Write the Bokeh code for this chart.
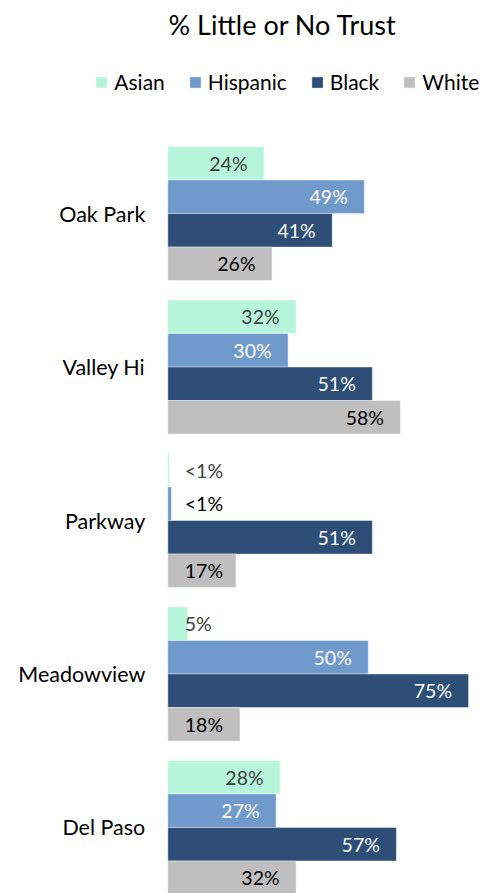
from bokeh.plotting import figure
from bokeh.models import Range1d, Legend, LegendItem, ColumnDataSource
from bokeh.embed import file_html
from bokeh.resources import INLINE
from bokeh.core.properties import value

# ---- data ----
regions = ["Oak Park", "Valley Hi", "Parkway", "Meadowview", "Del Paso"]
series_names = ["Asian", "Hispanic", "Black", "White"]
asian = [24, 32, 0.4, 5, 28]
hispanic = [49, 30, 0.9, 50, 27]
black = [41, 51, 51, 75, 57]
white = [26, 58, 17, 18, 32]
title_text = "% Little or No Trust"

# ---- style ----
colors = ["#B8F5DD", "#7099CC", "#2D4E77", "#BFBFBF"]
label_colors = ["#404040", "#FFFFFF", "#FFFFFF", "#000000"]
FONT = "Lato"

W, H = 487, 893
PX_PER_PCT = 4.01
BAR_LEFT_PX = 167.3
BAR = 1 / 4.577            # bar height in group units
FRAME_TOP = 45.8
GROUP_PX = 153.33
FIRST_CENTER = 213.7
y_top_val = -(FIRST_CENTER - FRAME_TOP) / GROUP_PX
y_bot_val = (H - FIRST_CENTER) / GROUP_PX

x_start = -BAR_LEFT_PX / PX_PER_PCT
x_end = (W - BAR_LEFT_PX) / PX_PER_PCT

p = figure(width=W, height=H, output_backend="svg", toolbar_location=None,
           x_range=Range1d(x_start, x_end), y_range=Range1d(y_bot_val, y_top_val),
           x_axis_location=None, y_axis_location=None,
           min_border_left=0, min_border_right=0,
           min_border_bottom=0, min_border_top=0, outline_line_color=None,
           background_fill_color=None, border_fill_color="white")
p.grid.visible = False

p.title.text = title_text
p.title.text_font = FONT
p.title.text_font_size = "27px"
p.title.text_font_style = "normal"
p.title.text_color = "#000000"
p.title.align = "left"
p.title.offset = 168

all_vals = [asian, hispanic, black, white]
items = []
for j, (name, vals) in enumerate(zip(series_names, all_vals)):
    ys = [i + (j - 1.5) * BAR for i in range(len(regions))]
    src = ColumnDataSource(dict(y=ys, right=vals))
    r = p.hbar(y="y", left=0, right="right", height=BAR, source=src,
               fill_color=colors[j], line_color="white", line_width=0.8, line_alpha=0.5)
    items.append(LegendItem(label=name, renderers=[r]))

    texts, xs, aligns, offs, tcols = [], [], [], [], []
    for v in vals:
        texts.append("<1%" if v < 1 else f"{v:.0f}%")
        if v < 19:
            xs.append(0); aligns.append("left"); offs.append(17)
            tcols.append("#000000" if label_colors[j] == "#FFFFFF" else label_colors[j])
        else:
            xs.append(v); aligns.append("right"); offs.append(-16.5)
            tcols.append(label_colors[j])
    tsrc = ColumnDataSource(dict(x=xs, y=ys, text=texts, align=aligns, off=offs, col=tcols))
    p.text(x="x", y="y", text="text", source=tsrc, text_align="align", x_offset="off",
           text_baseline="middle", text_color="col", text_font=value(FONT),
           text_font_size="19.5px")

# category labels
csrc = ColumnDataSource(dict(x=[0] * len(regions), y=list(range(len(regions))), text=regions))
p.text(x="x", y="y", text="text", source=csrc, text_align="right", x_offset=-22.5,
       text_baseline="middle", text_color="#000000", text_font=value(FONT),
       text_font_size="21.5px")

legend = Legend(items=items, orientation="horizontal", location=(94.3, 798.7),
                glyph_width=14, glyph_height=14, label_standoff=6, spacing=23,
                padding=0, margin=0, border_line_color=None, background_fill_alpha=0,
                label_text_font=FONT, label_text_font_size="21px",
                label_text_color="#000000", label_height=14)
p.add_layout(legend, "center")

open("out.html", "w").write(file_html(p, INLINE))
